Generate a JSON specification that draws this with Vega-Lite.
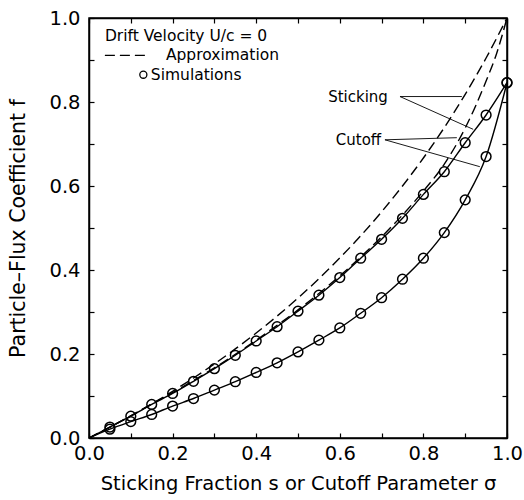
{
  "$schema": "https://vega.github.io/schema/vega-lite/v6.json",
  "width": 418,
  "height": 420,
  "autosize": "none",
  "padding": {"left": 89, "top": 18, "right": 17, "bottom": 62},
  "background": "white",
  "config": {
    "font": "DejaVu Sans",
    "view": {"stroke": "black", "strokeWidth": 1.5},
    "axis": {"grid": false, "domainColor": "black", "domainWidth": 1.5, "tickColor": "black", "tickWidth": 1.2, "labelColor": "black", "titleColor": "black", "labelFont": "DejaVu Sans", "titleFont": "DejaVu Sans", "titleFontWeight": "normal"}
  },
  "datasets": {
    "curves": [
      {"series": "Sticking approx", "x": 0, "f": 0},
      {"series": "Sticking approx", "x": 0.05, "f": 0.0256},
      {"series": "Sticking approx", "x": 0.1, "f": 0.0526},
      {"series": "Sticking approx", "x": 0.15, "f": 0.0811},
      {"series": "Sticking approx", "x": 0.2, "f": 0.1111},
      {"series": "Sticking approx", "x": 0.25, "f": 0.1429},
      {"series": "Sticking approx", "x": 0.3, "f": 0.1765},
      {"series": "Sticking approx", "x": 0.35, "f": 0.2121},
      {"series": "Sticking approx", "x": 0.4, "f": 0.25},
      {"series": "Sticking approx", "x": 0.45, "f": 0.2903},
      {"series": "Sticking approx", "x": 0.5, "f": 0.3333},
      {"series": "Sticking approx", "x": 0.55, "f": 0.3793},
      {"series": "Sticking approx", "x": 0.6, "f": 0.4286},
      {"series": "Sticking approx", "x": 0.65, "f": 0.4815},
      {"series": "Sticking approx", "x": 0.7, "f": 0.5385},
      {"series": "Sticking approx", "x": 0.75, "f": 0.6},
      {"series": "Sticking approx", "x": 0.8, "f": 0.6667},
      {"series": "Sticking approx", "x": 0.85, "f": 0.7391},
      {"series": "Sticking approx", "x": 0.9, "f": 0.8182},
      {"series": "Sticking approx", "x": 0.95, "f": 0.9048},
      {"series": "Sticking approx", "x": 1.0, "f": 1.0},
      {"series": "Cutoff approx", "x": 0, "f": 0},
      {"series": "Cutoff approx", "x": 0.05, "f": 0.026},
      {"series": "Cutoff approx", "x": 0.1, "f": 0.053},
      {"series": "Cutoff approx", "x": 0.15, "f": 0.081},
      {"series": "Cutoff approx", "x": 0.2, "f": 0.108},
      {"series": "Cutoff approx", "x": 0.25, "f": 0.137},
      {"series": "Cutoff approx", "x": 0.3, "f": 0.167},
      {"series": "Cutoff approx", "x": 0.35, "f": 0.199},
      {"series": "Cutoff approx", "x": 0.4, "f": 0.233},
      {"series": "Cutoff approx", "x": 0.45, "f": 0.268},
      {"series": "Cutoff approx", "x": 0.5, "f": 0.305},
      {"series": "Cutoff approx", "x": 0.55, "f": 0.344},
      {"series": "Cutoff approx", "x": 0.6, "f": 0.386},
      {"series": "Cutoff approx", "x": 0.65, "f": 0.431},
      {"series": "Cutoff approx", "x": 0.7, "f": 0.479},
      {"series": "Cutoff approx", "x": 0.75, "f": 0.531},
      {"series": "Cutoff approx", "x": 0.8, "f": 0.588},
      {"series": "Cutoff approx", "x": 0.85, "f": 0.652},
      {"series": "Cutoff approx", "x": 0.9, "f": 0.738},
      {"series": "Cutoff approx", "x": 0.95, "f": 0.85},
      {"series": "Cutoff approx", "x": 0.975, "f": 0.915},
      {"series": "Cutoff approx", "x": 1.0, "f": 1.0},
      {"series": "Sticking sim", "x": 0, "f": 0},
      {"series": "Sticking sim", "x": 0.05, "f": 0.026},
      {"series": "Sticking sim", "x": 0.1, "f": 0.052},
      {"series": "Sticking sim", "x": 0.15, "f": 0.08},
      {"series": "Sticking sim", "x": 0.2, "f": 0.106},
      {"series": "Sticking sim", "x": 0.25, "f": 0.135},
      {"series": "Sticking sim", "x": 0.3, "f": 0.165},
      {"series": "Sticking sim", "x": 0.35, "f": 0.197},
      {"series": "Sticking sim", "x": 0.4, "f": 0.231},
      {"series": "Sticking sim", "x": 0.45, "f": 0.265},
      {"series": "Sticking sim", "x": 0.5, "f": 0.302},
      {"series": "Sticking sim", "x": 0.55, "f": 0.34},
      {"series": "Sticking sim", "x": 0.6, "f": 0.382},
      {"series": "Sticking sim", "x": 0.65, "f": 0.428},
      {"series": "Sticking sim", "x": 0.7, "f": 0.473},
      {"series": "Sticking sim", "x": 0.75, "f": 0.523},
      {"series": "Sticking sim", "x": 0.8, "f": 0.58},
      {"series": "Sticking sim", "x": 0.85, "f": 0.634},
      {"series": "Sticking sim", "x": 0.9, "f": 0.703},
      {"series": "Sticking sim", "x": 0.95, "f": 0.769},
      {"series": "Sticking sim", "x": 1.0, "f": 0.846},
      {"series": "Cutoff sim", "x": 0, "f": 0},
      {"series": "Cutoff sim", "x": 0.05, "f": 0.021},
      {"series": "Cutoff sim", "x": 0.1, "f": 0.039},
      {"series": "Cutoff sim", "x": 0.15, "f": 0.056},
      {"series": "Cutoff sim", "x": 0.2, "f": 0.076},
      {"series": "Cutoff sim", "x": 0.25, "f": 0.094},
      {"series": "Cutoff sim", "x": 0.3, "f": 0.114},
      {"series": "Cutoff sim", "x": 0.35, "f": 0.134},
      {"series": "Cutoff sim", "x": 0.4, "f": 0.156},
      {"series": "Cutoff sim", "x": 0.45, "f": 0.179},
      {"series": "Cutoff sim", "x": 0.5, "f": 0.205},
      {"series": "Cutoff sim", "x": 0.55, "f": 0.233},
      {"series": "Cutoff sim", "x": 0.6, "f": 0.262},
      {"series": "Cutoff sim", "x": 0.65, "f": 0.297},
      {"series": "Cutoff sim", "x": 0.7, "f": 0.334},
      {"series": "Cutoff sim", "x": 0.75, "f": 0.378},
      {"series": "Cutoff sim", "x": 0.8, "f": 0.428},
      {"series": "Cutoff sim", "x": 0.85, "f": 0.489},
      {"series": "Cutoff sim", "x": 0.9, "f": 0.567},
      {"series": "Cutoff sim", "x": 0.95, "f": 0.67},
      {"series": "Cutoff sim", "x": 1.0, "f": 0.846}
    ],
    "pointers": [
      {"label": "Sticking", "x": 0.744, "y": 0.813, "x2": 0.892, "y2": 0.813},
      {"label": "Sticking", "x": 0.744, "y": 0.813, "x2": 0.919, "y2": 0.735},
      {"label": "Cutoff", "x": 0.708, "y": 0.71, "x2": 0.88, "y2": 0.715},
      {"label": "Cutoff", "x": 0.708, "y": 0.71, "x2": 0.935, "y2": 0.646}
    ],
    "labels": [
      {"text": "Sticking", "x": 0.715, "y": 0.813},
      {"text": "Cutoff", "x": 0.699, "y": 0.71}
    ],
    "legendText": [
      {"text": "Drift Velocity U/c = 0", "x": 0.038, "y": 0.958},
      {"text": "Approximation", "x": 0.184, "y": 0.911},
      {"text": "Simulations", "x": 0.148, "y": 0.865}
    ],
    "legendDash": [{"x": 0.038, "x2": 0.134, "y": 0.911}],
    "legendCircle": [{"x": 0.13, "y": 0.865}]
  },
  "resolve": {"axis": {"x": "independent", "y": "independent"}},
  "layer": [
    {
      "data": {"name": "curves"},
      "transform": [{"filter": "indexof(datum.series, 'approx') >= 0"}],
      "mark": {"type": "line", "interpolate": "monotone", "color": "black", "strokeWidth": 1.4, "strokeDash": [10, 5], "clip": true},
      "encoding": {
        "x": {"field": "x", "type": "quantitative", "scale": {"domain": [0, 1], "nice": false},
          "axis": {"orient": "bottom", "values": [0, 0.1, 0.2, 0.3, 0.4, 0.5, 0.6, 0.7, 0.8, 0.9, 1.0], "labelExpr": "round(datum.value*10) % 2 == 0 ? format(datum.value, '.1f') : ''", "tickSize": -5, "labelPadding": 11, "labelFontSize": 19.5, "labelFlush": false, "title": "Sticking Fraction s or Cutoff Parameter σ", "titleFontSize": 19.5, "titlePadding": 12}},
        "y": {"field": "f", "type": "quantitative", "scale": {"domain": [0, 1], "nice": false},
          "axis": {"orient": "left", "values": [0, 0.1, 0.2, 0.3, 0.4, 0.5, 0.6, 0.7, 0.8, 0.9, 1.0], "labelExpr": "round(datum.value*10) % 2 == 0 ? format(datum.value, '.1f') : ''", "tickSize": -5, "labelPadding": 14, "labelFontSize": 19.5, "labelFlush": false, "title": "Particle–Flux Coefficient f", "titleFontSize": 20.5, "titlePadding": 20}},
        "detail": {"field": "series"}
      }
    },
    {
      "data": {"name": "curves"},
      "transform": [{"filter": "indexof(datum.series, 'sim') >= 0"}],
      "mark": {"type": "line", "interpolate": "monotone", "color": "black", "strokeWidth": 1.4},
      "encoding": {
        "x": {"field": "x", "type": "quantitative", "scale": {"domain": [0, 1], "nice": false},
          "axis": {"orient": "top", "values": [0, 0.1, 0.2, 0.3, 0.4, 0.5, 0.6, 0.7, 0.8, 0.9, 1.0], "labels": false, "tickSize": -5, "title": null}},
        "y": {"field": "f", "type": "quantitative", "scale": {"domain": [0, 1], "nice": false},
          "axis": {"orient": "right", "values": [0, 0.1, 0.2, 0.3, 0.4, 0.5, 0.6, 0.7, 0.8, 0.9, 1.0], "labels": false, "tickSize": -5, "title": null}},
        "detail": {"field": "series"}
      }
    },
    {
      "data": {"name": "curves"},
      "transform": [{"filter": "indexof(datum.series, 'sim') >= 0 && datum.x > 0"}],
      "mark": {"type": "point", "shape": "circle", "filled": false, "color": "black", "strokeWidth": 1.5, "size": 95, "opacity": 1},
      "encoding": {
        "x": {"field": "x", "type": "quantitative", "axis": null},
        "y": {"field": "f", "type": "quantitative", "axis": null}
      }
    },
    {
      "data": {"name": "pointers"},
      "mark": {"type": "rule", "color": "black", "strokeWidth": 0.9},
      "encoding": {
        "x": {"field": "x", "type": "quantitative", "axis": null},
        "y": {"field": "y", "type": "quantitative", "axis": null},
        "x2": {"field": "x2"},
        "y2": {"field": "y2"}
      }
    },
    {
      "data": {"name": "labels"},
      "mark": {"type": "text", "align": "right", "baseline": "middle", "fontSize": 15, "color": "black"},
      "encoding": {
        "x": {"field": "x", "type": "quantitative", "axis": null},
        "y": {"field": "y", "type": "quantitative", "axis": null},
        "text": {"field": "text"}
      }
    },
    {
      "data": {"name": "legendText"},
      "mark": {"type": "text", "align": "left", "baseline": "middle", "fontSize": 15.5, "color": "black"},
      "encoding": {
        "x": {"field": "x", "type": "quantitative", "axis": null},
        "y": {"field": "y", "type": "quantitative", "axis": null},
        "text": {"field": "text"}
      }
    },
    {
      "data": {"name": "legendDash"},
      "mark": {"type": "rule", "color": "black", "strokeWidth": 1.4, "strokeDash": [10, 5]},
      "encoding": {
        "x": {"field": "x", "type": "quantitative", "axis": null},
        "x2": {"field": "x2"},
        "y": {"field": "y", "type": "quantitative", "axis": null}
      }
    },
    {
      "data": {"name": "legendCircle"},
      "mark": {"type": "point", "shape": "circle", "filled": false, "color": "black", "strokeWidth": 1.3, "size": 50, "opacity": 1},
      "encoding": {
        "x": {"field": "x", "type": "quantitative", "axis": null},
        "y": {"field": "y", "type": "quantitative", "axis": null}
      }
    }
  ]
}
